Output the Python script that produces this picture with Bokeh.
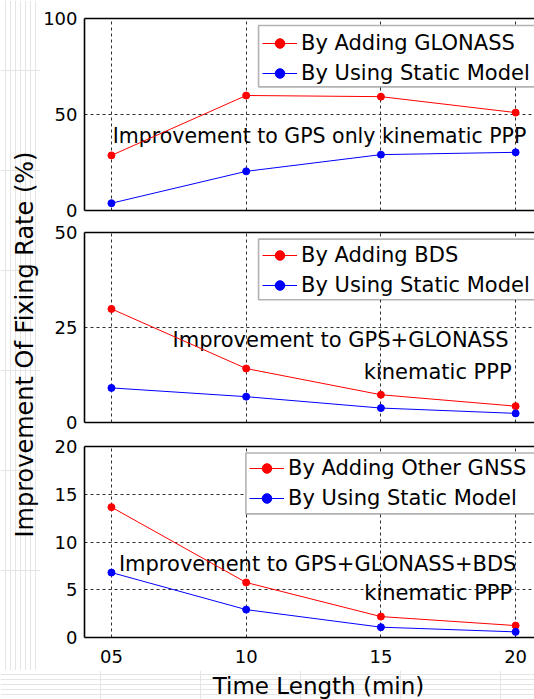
import math

from bokeh.core.properties import value
from bokeh.embed import file_html
from bokeh.layouts import column, row
from bokeh.models import (BoxAnnotation, FixedTicker, Legend, LegendItem,
                          LinearAxis, Range1d)
from bokeh.plotting import figure
from bokeh.resources import INLINE

# Time lengths of the test sessions (min) and their tick texts
time_min = [5, 10, 15, 20]
time_tick_text = {5: "05", 10: "10", 15: "15", 20: "20"}

# Panel 1: improvement over GPS-only kinematic PPP (%)
gain_add_glonass = [28.7, 59.9, 59.3, 51.0]
gain_static_g = [3.8, 20.4, 29.1, 30.3]

# Panel 2: improvement over GPS+GLONASS kinematic PPP (%)
gain_add_bds = [29.9, 14.2, 7.3, 4.3]
gain_static_gr = [9.1, 6.8, 3.8, 2.4]

# Panel 3: improvement over GPS+GLONASS+BDS kinematic PPP (%)
gain_add_other = [13.65, 5.76, 2.19, 1.25]
gain_static_grc = [6.8, 2.92, 1.08, 0.59]

# y ticks per panel
ticks_p1 = [0, 50, 100]
ticks_p2 = [0, 25, 50]
ticks_p3 = [0, 5, 10, 15, 20]

FONT = "DejaVu Sans"
RED = "#ff0000"
BLUE = "#0000ff"

LABEL_W = 40          # strip holding the shared y label
PANEL_W = 534 - LABEL_W
XLAB_H = 29           # strip holding the x axis title
X_END = 20.7


def make_panel(height, top, bottom, y_end, y_ticks, red_vals, blue_vals,
               red_name, legend_xy, box, notes, show_x):
    p = figure(width=PANEL_W, height=height, output_backend="svg",
               toolbar_location=None,
               x_range=Range1d(4, X_END), y_range=Range1d(0, y_end),
               min_border_left=82 - LABEL_W, min_border_right=0,
               min_border_top=top, min_border_bottom=bottom,
               outline_line_color=None, background_fill_color="white")

    # axes: left (values), below (time), above (plain border line)
    yax = p.yaxis[0]
    yax.ticker = FixedTicker(ticks=y_ticks)
    xax = p.xaxis[0]
    xax.ticker = FixedTicker(ticks=time_min if show_x else [])
    if show_x:
        xax.major_label_overrides = time_tick_text
    top_ax = LinearAxis(ticker=FixedTicker(ticks=[]))
    p.add_layout(top_ax, "above")
    for ax in (yax, xax, top_ax):
        ax.axis_line_color = "black"
        ax.axis_line_width = 1.6
        ax.major_tick_in = 0
        ax.major_tick_out = 0
        ax.minor_tick_in = 0
        ax.minor_tick_out = 0
        ax.major_label_text_font = FONT
        ax.major_label_text_font_size = "18px"
        ax.major_label_text_color = "black"
    yax.major_label_standoff = 7
    xax.major_label_standoff = 12

    # dashed grid
    p.xgrid.ticker = FixedTicker(ticks=time_min)
    p.ygrid.ticker = FixedTicker(ticks=y_ticks)
    for g in (p.xgrid[0], p.ygrid[0]):
        g.grid_line_color = "#303030"
        g.grid_line_dash = "3 3"
        g.grid_line_width = 1

    # annotation text
    for (tx, ty, txt, align, size) in notes:
        p.text(x=[tx], y=[ty], text=[txt], text_font=value(FONT),
               text_font_size=value(size), text_align=align,
               text_baseline="middle", text_color="black")

    r_line = p.line(time_min, red_vals, line_color=RED, line_width=1)
    r_dot = p.scatter(time_min, red_vals, marker="circle", size=7,
                      fill_color=RED, line_color=RED)
    b_line = p.line(time_min, blue_vals, line_color=BLUE, line_width=1)
    b_dot = p.scatter(time_min, blue_vals, marker="circle", size=7,
                      fill_color=BLUE, line_color=BLUE)

    # legend frame, running out past the right edge of the plot
    bl, bt, bb = box
    p.add_layout(BoxAnnotation(left=bl, right=X_END + 2, top=bt, bottom=bb,
                               fill_color="white", fill_alpha=1.0,
                               line_color="black", line_width=1.6))

    legend = Legend(items=[
        LegendItem(label=red_name, renderers=[r_line, r_dot]),
        LegendItem(label="By Using Static Model", renderers=[b_line, b_dot]),
    ], location=legend_xy)
    legend.label_text_font = FONT
    legend.label_text_font_size = "21px"
    legend.label_text_color = "black"
    legend.label_height = 24
    legend.label_standoff = 4
    legend.glyph_width = 35
    legend.glyph_height = 24
    legend.padding = 4
    legend.spacing = 6
    legend.margin = 0
    legend.border_line_color = None
    legend.background_fill_alpha = 0.0
    p.add_layout(legend)
    return p


p1 = make_panel(221, 18, 11, 100, ticks_p1, gain_add_glonass, gain_static_g,
                "By Adding GLONASS", (178, 125.5), (10.46, 96.35, 64.4),
                [(5.05, 39, "Improvement to GPS only kinematic PPP", "left",
                  "20.5px")],
                False)
p2 = make_panel(214, 11, 13, 50, ticks_p2, gain_add_bds, gain_static_gr,
                "By Adding BDS", (178, 125), (10.46, 48.26, 32.3),
                [(19.74, 21.6, "Improvement to GPS+GLONASS", "right", "21px"),
                 (19.85, 13.2, "kinematic PPP", "right", "21px")],
                False)
p3 = make_panel(235, 11, 33, 20, ticks_p3, gain_add_other, gain_static_grc,
                "By Adding Other GNSS", (165, 127), (9.99, 19.32, 12.94),
                [(20.03, 7.7, "Improvement to GPS+GLONASS+BDS", "right",
                  "21px"),
                 (19.87, 4.7, "kinematic PPP", "right", "21px")],
                True)

TOP_H = 221 + 214 + 235

# shared y label on its own narrow strip
lab = figure(width=LABEL_W, height=TOP_H, output_backend="svg",
             toolbar_location=None, x_range=Range1d(0, LABEL_W),
             y_range=Range1d(0, TOP_H), min_border=0,
             x_axis_location=None, y_axis_location=None,
             outline_line_color=None)
lab.text(x=[24], y=[TOP_H - 344], text=["Improvement Of Fixing Rate (%)"],
         angle=math.pi / 2, text_font=value(FONT),
         text_font_size=value("24px"), text_align="center",
         text_baseline="middle", text_color="black")

# x axis title on a strip under the panels
xlab = figure(width=534, height=XLAB_H, output_backend="svg",
              toolbar_location=None, x_range=Range1d(0, 534),
              y_range=Range1d(0, XLAB_H), min_border=0,
              x_axis_location=None, y_axis_location=None,
              outline_line_color=None)
xlab.text(x=[318], y=[XLAB_H - 15.5], text=["Time Length (min)"],
          text_font=value(FONT), text_font_size=value("23px"),
          text_align="center", text_baseline="middle", text_color="black")

layout = column(row(lab, column(p1, p2, p3)), xlab)

with open("out.html", "w") as f:
    f.write(file_html(layout, INLINE))
